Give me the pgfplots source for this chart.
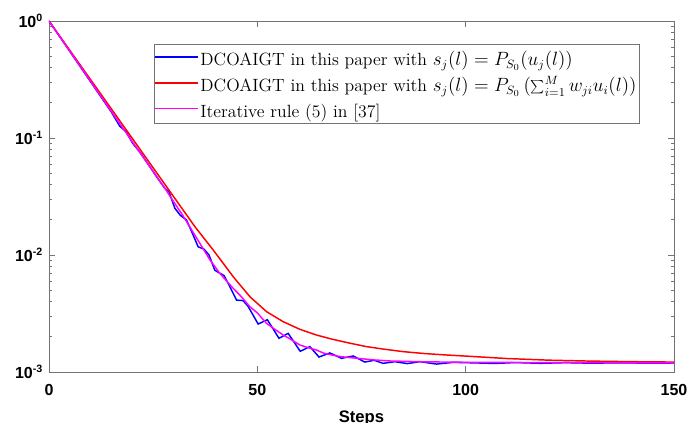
\documentclass[border=0pt]{standalone}
\usepackage{fontspec}
\setsansfont{Liberation Sans}
\usepackage{pgfplots}
\pgfplotsset{compat=1.18}
\definecolor{axgray}{RGB}{115,115,115}
\definecolor{mblue}{RGB}{0,0,255}
\definecolor{mred}{RGB}{255,0,0}
\definecolor{mmag}{RGB}{255,0,255}
\newcommand{\rowstrut}{\rule[-7pt]{0pt}{20.8pt}}
\pgfplotsset{rulelegend/.style={legend image code/.code={%
  \node[inner sep=0pt,anchor=west] at (0pt,0pt) {\textcolor{#1}{\rule[-0.6pt]{32pt}{1.2pt}}};}}}

\begin{document}
\begin{tikzpicture}
\begin{axis}[name=ax,
  width=468.75pt,height=263.25pt,scale only axis,
  ymode=log,
  xmin=0,xmax=150,ymin=1e-3,ymax=1,
  xtick={0,50,100,150},
  xticklabels={0,50,100,150},
  ytick={1e-3,1e-2,1e-1,1},
  yticklabels={10\textsuperscript{-3},10\textsuperscript{-2},10\textsuperscript{-1},10\textsuperscript{0}},
  minor ytick={2e-3,3e-3,4e-3,5e-3,6e-3,7e-3,8e-3,9e-3,2e-2,3e-2,4e-2,5e-2,6e-2,7e-2,8e-2,9e-2,0.2,0.3,0.4,0.5,0.6,0.7,0.8,0.9},
  tick align=inside,
  major tick length=4.5pt, minor tick length=2.4pt,
  axis line style={draw=axgray,line width=0.6pt},
  every tick/.style={draw=axgray,line width=0.6pt},
  ticklabel style={font=\sffamily\bfseries\fontsize{12}{12}\selectfont},
  xticklabel style={yshift=-6pt},
  yticklabel style={xshift=-1pt},
  xlabel={Steps},
  xlabel style={font=\sffamily\bfseries\fontsize{12.5}{13}\selectfont,yshift=-4pt},
  legend cell align=left,
  legend style={at={(rel axis cs:0.9456,0.9345)},anchor=north east,
    draw=axgray,inner sep=0.5pt,row sep=0pt,
    font=\fontsize{13.3}{15}\selectfont},
  every axis plot/.append style={line width=1.1pt,no marks},
]
\addplot[color=mblue,rulelegend=mblue] coordinates {
(0,1.0) (5,0.5495) (10,0.3020) (15,0.1660) (17,0.1259) (18.5,0.1135) (20,0.0912)
(22,0.07413) (24.2,0.05689) (26,0.04571) (27.8,0.03715) (28.8,0.03467)
(30.2,0.02512) (31.5,0.02188) (33,0.01995) (34.6,0.01479) (35.8,0.01175)
(37.2,0.01122) (38.4,0.01000) (39.8,0.007413) (41.2,0.006918) (42,0.006683)
(43.4,0.005370) (45,0.004121) (46.6,0.004074) (47.8,0.003631) (50.2,0.002570)
(52.4,0.002799) (55.2,0.001941) (57.4,0.002138) (60.3,0.001503) (62.6,0.001648)
(64.8,0.001343) (67.4,0.001455) (70.2,0.001309) (73,0.001371) (75.8,0.001216)
(78,0.001259) (80.2,0.001186) (83,0.001225) (86,0.001180) (89,0.001225)
(93,0.001169) (97,0.001208) (102,0.001197) (107,0.001183) (112,0.001205)
(118,0.001186) (124,0.001202) (130,0.001189) (137,0.001199) (144,0.001189)
(150,0.001194)
};
\addlegendentry{\rowstrut DCOAIGT in this paper with $s_j(l)=P_{S_0}(u_j(l))$}
\addplot[color=mred,rulelegend=mred] coordinates {
(0,1.0) (5,0.561) (10,0.3148) (15,0.1766) (20,0.0991) (25,0.05559) (30,0.03119)
(35,0.01750) (39.4,0.01104) (42,0.008318) (44.2,0.006531) (48.2,0.004406)
(52.2,0.003281) (56.2,0.002692) (60.2,0.002317) (64.2,0.002070) (68,0.001905)
(72,0.001770) (76,0.001652) (80,0.001574) (85,0.001493) (90,0.001439)
(95,0.001400) (100,0.001368) (110,0.001303) (120,0.001262) (130,0.001239)
(140,0.001225) (150,0.001216)
};
\addlegendentry{\rowstrut DCOAIGT in this paper with $s_j(l)=P_{S_0}\left(\sum_{i=1}^{M}w_{ji}u_i(l)\right)$}
\addplot[color=mmag,rulelegend=mmag] coordinates {
(0,1.0) (5,0.5521) (10,0.3048) (15,0.1683) (20,0.09290) (24.2,0.05689)
(28,0.03631) (30,0.02818) (32,0.02213) (35,0.01479) (38.6,0.009120)
(41,0.006966) (44.2,0.005188) (46,0.004467) (48.2,0.003614) (50,0.003199)
(52.2,0.002606) (54,0.002344) (56.2,0.002070) (58,0.001905) (60.2,0.001702)
(62,0.001622) (64.2,0.001542) (66,0.001445) (68,0.001396) (70,0.001352)
(74,0.001309) (78,0.001268) (82,0.001242) (90,0.001222) (100,0.001211)
(120,0.001202) (150,0.001197)
};
\addlegendentry{\rowstrut Iterative rule (5) in [37]}
\end{axis}
\pgfresetboundingbox
\path[use as bounding box] ([xshift=-36.75pt,yshift=-38.25pt]ax.south west) rectangle ++(517.5pt,317.25pt);
\end{tikzpicture}
\end{document}
